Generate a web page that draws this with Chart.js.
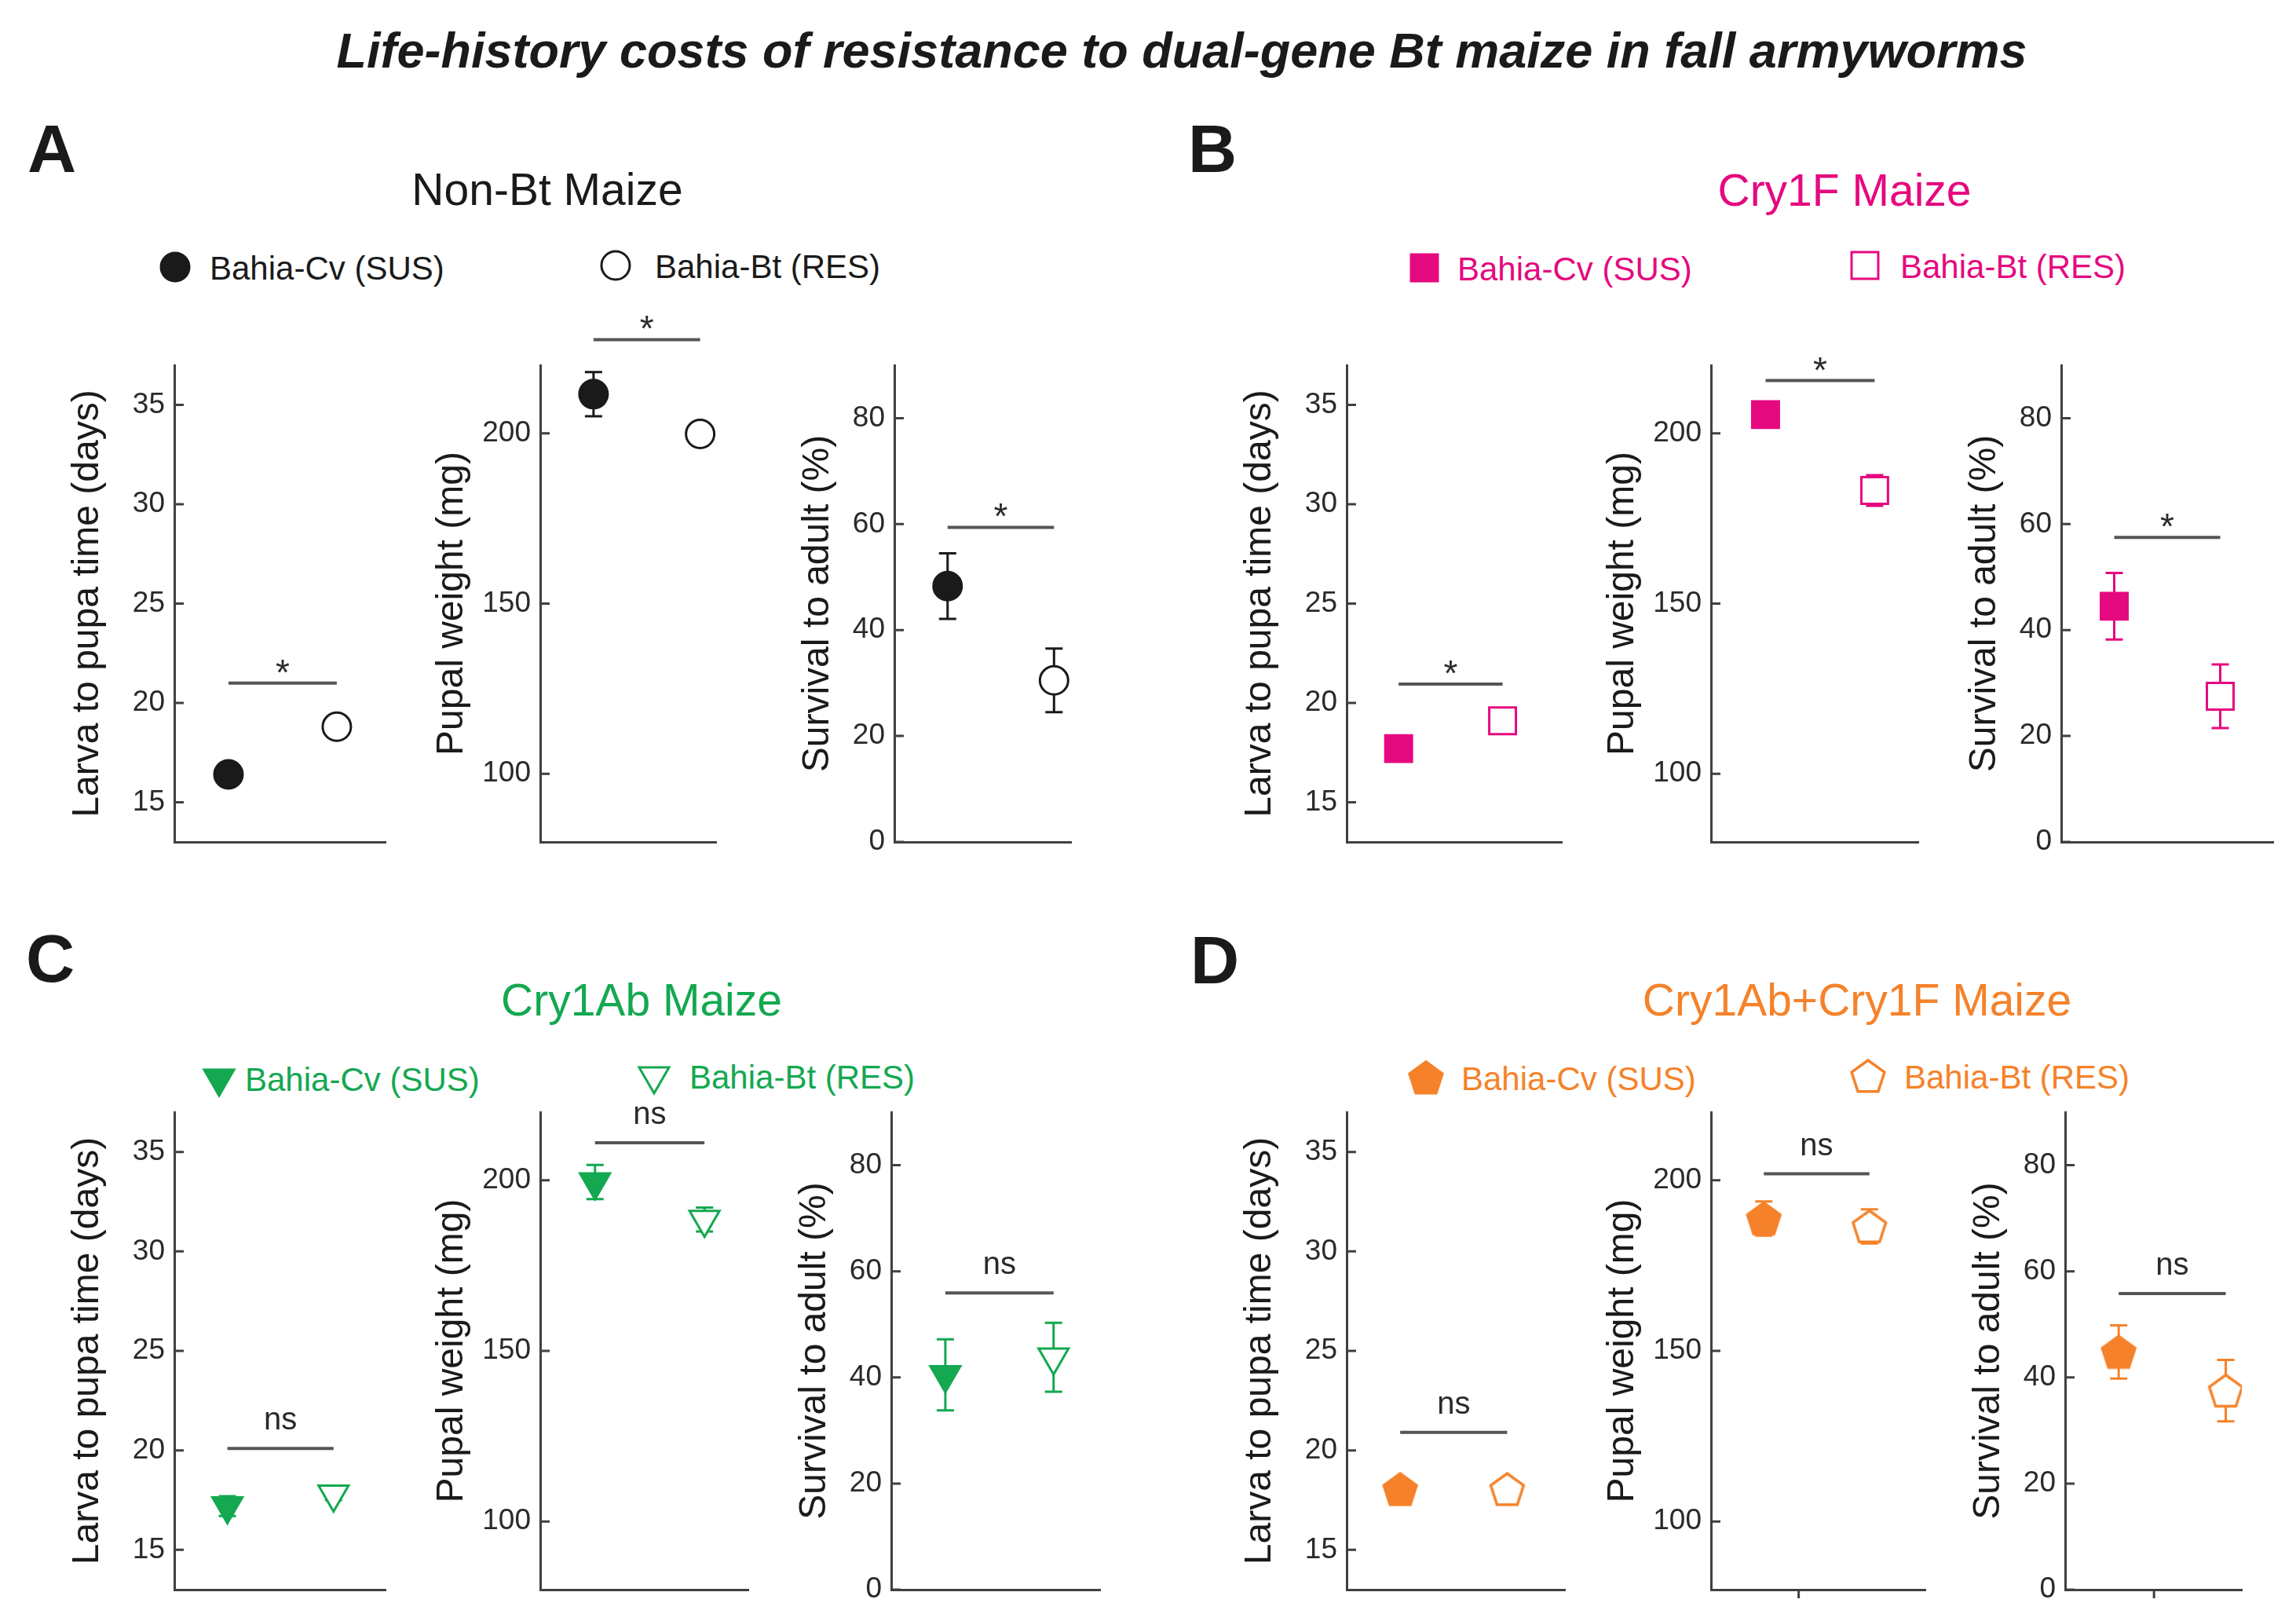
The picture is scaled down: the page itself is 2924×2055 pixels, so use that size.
<!DOCTYPE html>
<html>
<head>
<meta charset="utf-8">
<script src="https://cdn.jsdelivr.net/npm/chart.js@4.4.1/dist/chart.umd.min.js"></script>
<style>
  body { margin: 0; background: #fff; font-family: "Liberation Sans", Arial, sans-serif; }
  #page { position: relative; width: 2924px; height: 2055px; overflow: hidden; background: #fff; }
  .txt { position: absolute; white-space: nowrap; line-height: 1; transform: translate(-50%, -50%); }
  .left { transform: translate(0, -50%); }
  canvas { position: absolute; }
</style>
</head>
<body>
<div id="page"></div>
<script>
// ---- data ----
const groups = ["Bahia-Cv (SUS)", "Bahia-Bt (RES)"];
const panelLetters = ["A", "B", "C", "D"];
const panelTitles = ["Non-Bt Maize", "Cry1F Maize", "Cry1Ab Maize", "Cry1Ab+Cry1F Maize"];
const panelColors = ["#1a1a1a", "#e5097f", "#14a850", "#f5822a"];
const metricTitles = ["Larva to pupa time (days)", "Pupal weight (mg)", "Survival to adult (%)"];

// [SUS, RES] for panels A..D
const larvaMean = [[16.4, 18.8], [17.7, 19.1], [17.2, 17.8], [18.05, 18.05]];
const larvaErr  = [[0.3, 0.3], [0.3, 0.3], [0.5, 0.3], [0.3, 0.3]];
const pupalMean = [[211.5, 199.8], [205.5, 183.2], [199.5, 188.5], [188.8, 186.5]];
const pupalErr  = [[6.5, 1.5], [3, 4.5], [5, 3.5], [5, 5]];
const survMean  = [[48.3, 30.5], [44.5, 27.5], [40.5, 43.8], [44.8, 37.5]];
const survErr   = [[6.2, 6], [6.3, 6], [6.7, 6.5], [5, 5.8]];

// height of the significance bar, per panel: [larva, pupal, survival]
const sigLevel = [[21.0, 227.5, 59.4], [20.95, 215.5, 57.5], [20.1, 211, 55.9], [20.9, 201.9, 55.8]];
const sigLabels = ["*", "*", "ns", "ns"];

const yMin = [13, 80, 0];
const yMax = [37, 220, 90];
const yStep = [5, 50, 20];

// ---- layout ----
const FONT = '"Liberation Sans", Arial, sans-serif';
const axisColor = "#404040";
const rowTop = [465, 1416], rowBottom = [1072, 2024];
const axisSpan = [
  [[222, 491], [688, 912], [1139, 1364]],
  [[1715, 1989], [2179, 2443], [2625, 2895]],
  [[222, 491], [688, 953], [1135, 1401]],
  [[1715, 1993], [2179, 2452], [2630, 2855]]
];
const xMaxes = [[2.45, 2.15, 2.16], [2.57, 2.4, 2.5], [2.49, 2.4, 2.43], [2.54, 2.53, 2.15]];
const xMarks = [[[], [], []], [[], [], []], [[], [], []], [[], [1.33], [1.33]]];
const titleGap = [110, 112, 97];
const letterPos = [[35, 189], [1513, 189], [33, 1220], [1516, 1222]];
const titlePos = [[697, 241], [2349, 242], [817, 1273], [2365, 1273]];
const legendPos = [
  [[223, 340, 267], [784, 338, 834]],
  [[1814, 341, 1856], [2375, 338, 2420]],
  [[279, 1373, 312], [833, 1370, 878]],
  [[1816, 1372, 1861], [2379, 1370, 2425]]
];
const YW = 170, PT = 100, PR = 30, XH = 40;

Chart.defaults.font.family = FONT;

const page = document.getElementById("page");

function addText(str, x, y, size, opts = {}) {
  const d = document.createElement("div");
  d.className = "txt" + (opts.left ? " left" : "");
  d.textContent = str;
  d.style.left = x + "px";
  d.style.top = y + "px";
  d.style.fontSize = size + "px";
  d.style.color = opts.color || "#1a1a1a";
  if (opts.bold) d.style.fontWeight = "bold";
  if (opts.italic) d.style.fontStyle = "italic";
  page.appendChild(d);
}

function pentagon(fill, stroke) {
  const size = 52;
  const c = document.createElement("canvas");
  c.width = c.height = size;
  const g = c.getContext("2d");
  const r = 22;
  g.beginPath();
  for (let k = 0; k < 5; k++) {
    const a = -Math.PI / 2 + k * 2 * Math.PI / 5;
    const px = size / 2 + r * Math.cos(a), py = size / 2 + 2 + r * Math.sin(a);
    if (k) g.lineTo(px, py); else g.moveTo(px, py);
  }
  g.closePath();
  g.fillStyle = fill;
  g.fill();
  g.lineWidth = 3.5;
  g.strokeStyle = stroke;
  g.stroke();
  return c;
}

function markerStyle(p, filled) {
  const col = panelColors[p];
  const fill = filled ? col : "#ffffff";
  if (p === 0) return { pointStyle: "circle", radius: 18, rotation: 0, fill, col };
  if (p === 1) return { pointStyle: "rect", radius: 24, rotation: 0, fill, col };
  if (p === 2) return { pointStyle: "triangle", radius: 22, rotation: 180, fill, col };
  return { pointStyle: pentagon(fill, col), radius: 22, rotation: 0, fill, col };
}

const errorBars = {
  id: "errorBars",
  beforeDatasetsDraw(chart) {
    const ctx = chart.ctx, ys = chart.scales.y;
    chart.data.datasets.forEach((ds, i) => {
      if (!ds.errors) return;
      const meta = chart.getDatasetMeta(i);
      meta.data.forEach((pt, j) => {
        const v = ds.data[j].y, e = ds.errors[j];
        const top = ys.getPixelForValue(v + e), bot = ys.getPixelForValue(v - e);
        ctx.save();
        ctx.strokeStyle = ds.borderColor;
        ctx.lineWidth = 3;
        ctx.beginPath();
        ctx.moveTo(pt.x, top); ctx.lineTo(pt.x, bot);
        ctx.moveTo(pt.x - 11, top); ctx.lineTo(pt.x + 11, top);
        ctx.moveTo(pt.x - 11, bot); ctx.lineTo(pt.x + 11, bot);
        ctx.stroke();
        ctx.restore();
      });
    });
  }
};

const sigText = {
  id: "sigText",
  afterDatasetsDraw(chart) {
    const ctx = chart.ctx;
    chart.data.datasets.forEach((ds, i) => {
      if (!ds.sigText) return;
      const pts = chart.getDatasetMeta(i).data;
      const x = (pts[0].x + pts[1].x) / 2, y = pts[0].y;
      ctx.save();
      ctx.fillStyle = "#2a2a2a";
      ctx.textAlign = "center";
      ctx.textBaseline = "alphabetic";
      if (ds.sigText === "*") {
        ctx.font = "46px " + FONT;
        ctx.fillText(ds.sigText, x, y + 2);
      } else {
        ctx.font = "40px " + FONT;
        ctx.fillText(ds.sigText, x, y - 24);
      }
      ctx.restore();
    });
  }
};

function tickMarks(marks) {
  return {
    id: "tickMarks",
    afterDraw(chart) {
      const { ctx, chartArea, scales: { x, y } } = chart;
      ctx.save();
      ctx.strokeStyle = axisColor;
      ctx.lineWidth = 3;
      ctx.beginPath();
      y.ticks.forEach(t => {
        const py = y.getPixelForValue(t.value);
        ctx.moveTo(chartArea.left, py);
        ctx.lineTo(chartArea.left + 12, py);
      });
      marks.forEach(v => {
        const px = x.getPixelForValue(v);
        ctx.moveTo(px, chartArea.bottom);
        ctx.lineTo(px, chartArea.bottom + 11);
      });
      ctx.stroke();
      ctx.restore();
    }
  };
}

// ---- texts ----
addText("Life-history costs of resistance to dual-gene Bt maize in fall armyworms", 1505, 64, 63, { bold: true, italic: true });

const metricMean = [larvaMean, pupalMean, survMean];
const metricErr = [larvaErr, pupalErr, survErr];

for (let p = 0; p < 4; p++) {
  addText(panelLetters[p], letterPos[p][0], letterPos[p][1], 86, { bold: true, left: true });
  addText(panelTitles[p], titlePos[p][0], titlePos[p][1], 57, { color: panelColors[p] });

  // legend: marker canvas + real text
  groups.forEach((g, gi) => {
    const [mx, my, tx] = legendPos[p][gi];
    const ms = markerStyle(p, gi === 0);
    const c = document.createElement("canvas");
    c.width = c.height = 60;
    c.style.left = (mx - 30) + "px";
    c.style.top = (my - 30) + "px";
    page.appendChild(c);
    const g2 = c.getContext("2d");
    g2.fillStyle = ms.fill;
    g2.strokeStyle = ms.col;
    g2.lineWidth = 3;
    Chart.helpers.drawPoint(g2, { pointStyle: ms.pointStyle, rotation: ms.rotation, radius: ms.radius, borderWidth: 3 }, 30, 30);
    addText(g, tx, my + 2, 42, { color: panelColors[p], left: true });
  });

  const row = p < 2 ? 0 : 1;
  for (let m = 0; m < 3; m++) {
    const [ax0, ax1] = axisSpan[p][m];
    const top = rowTop[row], bottom = rowBottom[row];
    const cw = YW + (ax1 - ax0) + PR;
    const ch = PT + (bottom - top) + XH;
    const cv = document.createElement("canvas");
    cv.width = cw; cv.height = ch;
    cv.style.width = cw + "px"; cv.style.height = ch + "px";
    cv.style.left = (ax0 - YW) + "px";
    cv.style.top = (top - PT) + "px";
    page.appendChild(cv);

    const datasets = groups.map((g, gi) => {
      const ms = markerStyle(p, gi === 0);
      return {
        label: g,
        data: [{ x: gi + 1, y: metricMean[m][p][gi] }],
        errors: [metricErr[m][p][gi]],
        showLine: false,
        pointStyle: ms.pointStyle,
        pointRadius: ms.radius,
        pointRotation: ms.rotation,
        pointBackgroundColor: ms.fill,
        pointBorderColor: ms.col,
        pointBorderWidth: 3,
        borderColor: ms.col,
        backgroundColor: ms.fill
      };
    });
    datasets.push({
      type: "line",
      label: "sig",
      data: [{ x: 1, y: sigLevel[p][m] }, { x: 2, y: sigLevel[p][m] }],
      sigText: sigLabels[p],
      borderColor: "#555555",
      borderWidth: 4,
      pointRadius: 0,
      clip: false
    });

    const lh = 48 * 1.2;
    new Chart(cv, {
      type: "scatter",
      data: { datasets },
      options: {
        responsive: false,
        animation: false,
        devicePixelRatio: 1,
        layout: { padding: { top: PT, right: PR, left: 0, bottom: 0 } },
        plugins: { legend: { display: false }, tooltip: { enabled: false } },
        scales: {
          x: {
            type: "linear", min: 0.5, max: xMaxes[p][m],
            ticks: { display: false },
            grid: { display: false, drawTicks: false },
            border: { display: true, color: axisColor, width: 3 },
            afterFit: s => { s.height = XH; }
          },
          y: {
            min: yMin[m], max: yMax[m],
            ticks: { stepSize: yStep[m], includeBounds: false, padding: 12, color: "#2a2a2a", font: { size: 37 } },
            grid: { display: false, drawTicks: false },
            border: { display: true, color: axisColor, width: 3 },
            title: {
              display: true, text: metricTitles[m], color: "#1a1a1a",
              font: { size: 48 },
              padding: { top: YW - titleGap[m] - lh / 2, bottom: 0 }
            },
            afterFit: s => { s.width = YW; }
          }
        }
      },
      plugins: [errorBars, sigText, tickMarks(xMarks[p][m])]
    });
  }
}
</script>
</body>
</html>
